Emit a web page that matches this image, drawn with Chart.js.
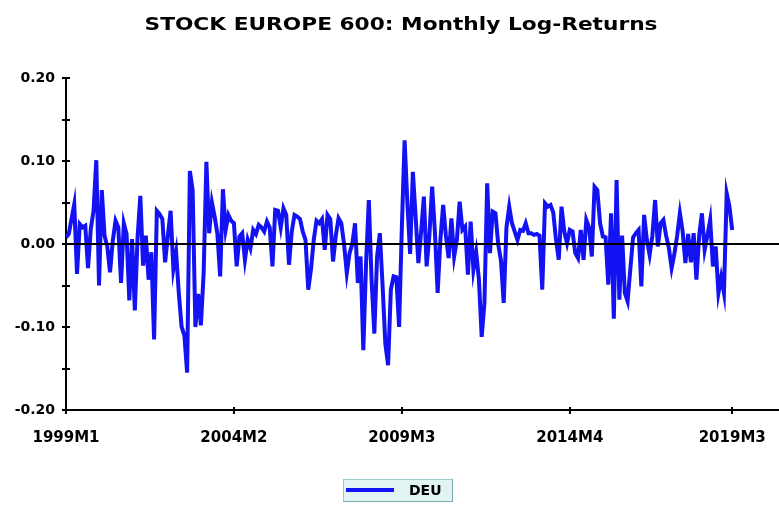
<!DOCTYPE html>
<html>
<head>
<meta charset="utf-8">
<script src="https://cdn.jsdelivr.net/npm/chart.js@4.4.1/dist/chart.umd.min.js"></script>
<style>
  html, body { margin: 0; padding: 0; background: #fff; }
  #wrap { width: 779px; height: 505px; position: relative; }
</style>
</head>
<body>
<div id="wrap"><canvas id="chart" width="779" height="505"></canvas></div>
<script>
'use strict';

/* ── Data ─────────────────────────────────────────────────── */
const chartTitle = 'STOCK EUROPE 600: Monthly Log-Returns';
const seriesName = 'DEU';
const startYear = 1999;
const xTickLabels = ['1999M1', '2004M2', '2009M3', '2014M4', '2019M3'];
const yLabelValues = [-0.20, -0.10, 0.00, 0.10, 0.20];

// monthly log-returns, 1999M1 .. 2019M3 (one row per year)
const logReturns = [
  0.008, 0.012, 0.030, 0.048, -0.036, 0.024, 0.020, 0.022, -0.029, 0.018, 0.040, 0.101,
  -0.050, 0.065, 0.010, -0.003, -0.034, 0.004, 0.028, 0.020, -0.047, 0.025, 0.012, -0.068,
  0.006, -0.080, 0.008, 0.058, -0.026, 0.010, -0.043, -0.010, -0.115, 0.040, 0.036, 0.030,
  -0.022, 0.010, 0.040, -0.030, -0.010, -0.060, -0.100, -0.110, -0.155, 0.088, 0.065, -0.100,
  -0.060, -0.098, -0.035, 0.099, 0.013, 0.050, 0.033, 0.012, -0.039, 0.066, 0.017, 0.035,
  0.028, 0.025, -0.027, 0.009, 0.013, -0.019, 0.005, -0.005, 0.017, 0.012, 0.023, 0.020,
  0.015, 0.027, 0.020, -0.027, 0.041, 0.040, 0.020, 0.043, 0.035, -0.025, 0.015, 0.035,
  0.033, 0.030, 0.015, 0.005, -0.055, -0.030, 0.005, 0.028, 0.025, 0.030, -0.007, 0.035,
  0.030, -0.021, 0.010, 0.031, 0.025, 0.000, -0.035, -0.011, 0.000, 0.025, -0.047, -0.015,
  -0.128, -0.023, 0.053, -0.043, -0.108, -0.015, 0.013, -0.050, -0.120, -0.146, -0.055, -0.039,
  -0.040, -0.100, 0.020, 0.125, 0.050, -0.012, 0.087, 0.033, -0.023, 0.015, 0.057, -0.027,
  0.010, 0.069, 0.015, -0.059, 0.005, 0.047, 0.010, -0.017, 0.031, -0.015, 0.005, 0.051,
  0.017, 0.021, -0.037, 0.027, -0.031, -0.010, -0.043, -0.112, -0.071, 0.073, -0.011, 0.039,
  0.037, 0.000, -0.020, -0.071, 0.020, 0.045, 0.025, 0.015, 0.005, 0.017, 0.016, 0.025,
  0.013, 0.013, 0.011, 0.012, 0.010, -0.055, 0.049, 0.045, 0.047, 0.038, 0.005, -0.019,
  0.045, 0.015, 0.001, 0.017, 0.015, -0.011, -0.017, 0.017, -0.019, 0.029, 0.020, -0.015,
  0.069, 0.065, 0.025, 0.009, 0.008, -0.049, 0.037, -0.090, 0.077, -0.067, 0.010, -0.059,
  -0.069, -0.030, 0.008, 0.013, 0.017, -0.051, 0.035, 0.005, -0.013, 0.010, 0.053, -0.003,
  0.025, 0.029, 0.010, -0.005, -0.029, -0.012, 0.010, 0.037, 0.015, -0.023, 0.012, -0.022,
  0.013, -0.043, 0.010, 0.037, -0.007, 0.010, 0.029, -0.027, -0.003, -0.059, -0.040, -0.059,
  0.061, 0.045, 0.017
];

// period labels 1999M1, 1999M2, ...
const periods = logReturns.map((_, i) => `${startYear + Math.floor(i / 12)}M${(i % 12) + 1}`);
const xTickIndex = xTickLabels.map(l => periods.indexOf(l));

const FONT = '"DejaVu Sans", Verdana, sans-serif';

/* ── Axis decoration, title, legend ───────────────────────── */
const decor = {
  id: 'decor',
  afterDatasetsDraw(chart) {
    const { ctx, chartArea: a, scales: { x, y } } = chart;
    ctx.save();
    ctx.strokeStyle = '#000';
    ctx.lineWidth = 2;
    // zero line over the series
    const y0 = Math.round(y.getPixelForValue(0));
    ctx.beginPath();
    ctx.moveTo(a.left, y0);
    ctx.lineTo(a.right, y0);
    // y tick marks crossing the axis
    y.ticks.forEach(t => {
      const py = Math.round(y.getPixelForValue(t.value));
      ctx.moveTo(a.left - 4, py);
      ctx.lineTo(a.left + 4, py);
    });
    // x tick marks
    xTickIndex.forEach(i => {
      const px = Math.round(x.getPixelForValue(i));
      ctx.moveTo(px, a.bottom - 3);
      ctx.lineTo(px, a.bottom + 4);
    });
    ctx.stroke();
    ctx.restore();
  },
  afterDraw(chart) {
    const { ctx } = chart;
    ctx.save();
    // title, stretched to the width of the original
    ctx.fillStyle = '#000';
    ctx.font = `bold 18px ${FONT}`;
    ctx.textAlign = 'center';
    ctx.textBaseline = 'middle';
    const w = ctx.measureText(chartTitle).width;
    ctx.translate(401, 25);
    ctx.scale(513 / w, 1);
    ctx.fillText(chartTitle, 0, 0);
    ctx.setTransform(1, 0, 0, 1, 0, 0);
    // legend box
    const bx = 343, by = 479, bw = 110, bh = 23;
    ctx.fillStyle = '#e2f3f3';
    ctx.fillRect(bx, by, bw, bh);
    ctx.strokeStyle = '#9fcaca';
    ctx.lineWidth = 1;
    ctx.strokeRect(bx + 0.5, by + 0.5, bw - 1, bh - 1);
    ctx.strokeStyle = '#7aa';
    ctx.beginPath();
    ctx.moveTo(bx + bw - 0.5, by);
    ctx.lineTo(bx + bw - 0.5, by + bh - 0.5);
    ctx.lineTo(bx, by + bh - 0.5);
    ctx.stroke();
    ctx.strokeStyle = chart.data.datasets[0].borderColor;
    ctx.lineWidth = 4;
    ctx.beginPath();
    ctx.moveTo(bx + 3, by + 11);
    ctx.lineTo(bx + 51, by + 11);
    ctx.stroke();
    ctx.fillStyle = '#000';
    ctx.font = `bold 14px ${FONT}`;
    ctx.textAlign = 'left';
    ctx.fillText(chart.data.datasets[0].label, bx + 66, by + 12);
    ctx.restore();
  }
};

/* ── Chart ────────────────────────────────────────────────── */
new Chart(document.getElementById('chart'), {
  type: 'line',
  data: {
    datasets: [{
      label: seriesName,
      data: logReturns.map((v, i) => ({ x: i, y: v })),
      borderColor: '#1212f2',
      borderWidth: 4,
      pointRadius: 0,
      tension: 0,
      fill: false
    }]
  },
  options: {
    responsive: false,
    animation: false,
    layout: { padding: { top: 78, right: 0, left: 0, bottom: 0 } },
    plugins: { legend: { display: false }, title: { display: false }, tooltip: { enabled: false } },
    scales: {
      x: {
        type: 'linear',
        min: 0,
        max: 259,
        afterBuildTicks: s => { s.ticks = xTickIndex.map(v => ({ value: v })); },
        afterFit: s => { s.height = 95; s.paddingLeft = 0; s.paddingRight = 0; },
        grid: { display: false, drawTicks: false },
        border: { display: true, color: '#000', width: 2 },
        ticks: {
          autoSkip: false,
          maxRotation: 0,
          padding: 19,
          color: '#000',
          font: { family: FONT, size: 15, weight: 'bold' },
          callback: v => periods[v] || ''
        }
      },
      y: {
        min: -0.2,
        max: 0.2,
        afterFit: s => { s.width = 66; s.paddingTop = 0; s.paddingBottom = 0; },
        grid: { display: false, drawTicks: false },
        border: { display: true, color: '#000', width: 2 },
        ticks: {
          stepSize: 0.05,
          padding: 11,
          color: '#000',
          font: { family: FONT, size: 14, weight: 'bold' },
          callback: v => yLabelValues.some(l => Math.abs(l - v) < 1e-9) ? v.toFixed(2) : ''
        }
      }
    }
  },
  plugins: [decor]
});
</script>
</body>
</html>
